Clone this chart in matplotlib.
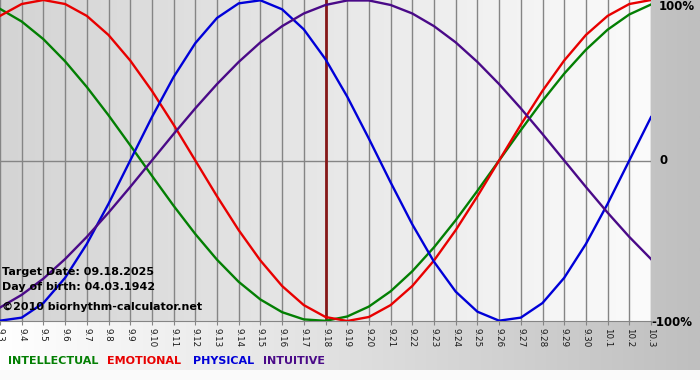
import matplotlib
matplotlib.use('Agg')
import matplotlib.pyplot as plt
import numpy as np
from matplotlib.colors import LinearSegmentedColormap

# Days shown: 9.3 .. 10.3 (index 0..30), target day 9.18
day_labels = ['9.3', '9.4', '9.5', '9.6', '9.7', '9.8', '9.9', '9.10', '9.11', '9.12',
              '9.13', '9.14', '9.15', '9.16', '9.17', '9.18', '9.19', '9.20', '9.21',
              '9.22', '9.23', '9.24', '9.25', '9.26', '9.27', '9.28', '9.29', '9.30',
              '10.1', '10.2', '10.3']
target_idx = 15

intellectual = [0.945, 0.866, 0.756, 0.618, 0.458, 0.282, 0.095, -0.095, -0.282, -0.458,
                -0.618, -0.756, -0.866, -0.945, -0.990, -0.999, -0.972, -0.910, -0.815,
                -0.690, -0.541, -0.372, -0.189, 0.000, 0.189, 0.372, 0.541, 0.690, 0.815,
                0.910, 0.972]
emotional = [0.901, 0.975, 1.000, 0.975, 0.901, 0.782, 0.623, 0.434, 0.223, 0.000,
             -0.223, -0.434, -0.623, -0.782, -0.901, -0.975, -1.000, -0.975, -0.901,
             -0.782, -0.623, -0.434, -0.223, 0.000, 0.223, 0.434, 0.623, 0.782, 0.901,
             0.975, 1.000]
physical = [-0.998, -0.979, -0.888, -0.731, -0.520, -0.270, 0.000, 0.270, 0.520, 0.731,
            0.888, 0.979, 0.998, 0.942, 0.817, 0.631, 0.398, 0.136, -0.136, -0.398,
            -0.631, -0.817, -0.942, -0.998, -0.979, -0.888, -0.731, -0.520, -0.270,
            0.000, 0.270]
intuitive = [-0.916, -0.837, -0.736, -0.614, -0.476, -0.325, -0.165, 0.000, 0.165, 0.325,
             0.476, 0.614, 0.736, 0.837, 0.916, 0.969, 0.997, 0.997, 0.969, 0.916,
             0.837, 0.736, 0.614, 0.476, 0.325, 0.165, 0.000, -0.165, -0.325, -0.476,
             -0.614]

series = [('INTELLECTUAL', intellectual, '#037f03'),
          ('EMOTIONAL', emotional, '#e80000'),
          ('PHYSICAL', physical, '#0000d8'),
          ('INTUITIVE', intuitive, '#4a0a88')]

W, H = 700, 380
fig = plt.figure(figsize=(W / 100, H / 100), dpi=100)
fig.patch.set_facecolor('#fafafa')

# background gradient (white -> gray, left to right)
bg = fig.add_axes([0, 10 / H, 1, 1 - 10 / H], zorder=-10)
bg_cmap = LinearSegmentedColormap.from_list('bg', ['#ffffff', '#bfbfbf'])
bg.imshow(np.linspace(0, 1, 256).reshape(1, -1), cmap=bg_cmap, aspect='auto',
          extent=(0, 1, 0, 1))
bg.axis('off')

x = np.arange(len(day_labels))
ax = fig.add_axes([0, (H - 321) / H, 651 / W, 321 / H])
plot_cmap = LinearSegmentedColormap.from_list('pl', ['#d4d4d4', '#fbfbfb'])
ax.imshow(np.linspace(0, 1, 256).reshape(1, -1), cmap=plot_cmap, aspect='auto',
          extent=(0, len(day_labels) - 1, -1, 1), zorder=0)
ax.set_xlim(0, len(day_labels) - 1)
ax.set_ylim(-1, 1)

for xi in x:
    ax.axvline(xi, color='#858585', lw=1, zorder=1)
ax.axhline(0, color='#858585', lw=1, zorder=1)
ax.axvline(target_idx, color='#861818', lw=2, zorder=2)

for name, vals, col in series:
    ax.plot(x, vals, color=col, lw=1.7, zorder=3)

ax.set_xticks(x)
ax.set_xticklabels(day_labels, rotation=270, fontsize=6.3, color='#1a1a1a')
ax.tick_params(axis='x', length=3, color='#858585', pad=2)
ax.set_yticks([])
for s in ['top', 'left', 'right']:
    ax.spines[s].set_visible(False)
ax.spines['bottom'].set_color('#858585')

# right-hand scale labels
fig.text(659 / W, 1 - 7 / H, '100%', fontsize=8.5, fontweight='bold', va='center')
fig.text(659 / W, 1 - 161 / H, '0', fontsize=8.5, fontweight='bold', va='center')
fig.text(651 / W, 1 - 322 / H, '-100%', fontsize=8.5, fontweight='bold', va='center')

# info text
fig.text(2 / W, 1 - 272 / H, 'Target Date: 09.18.2025', fontsize=8,
         fontweight='bold', va='center', zorder=5)
fig.text(2 / W, 1 - 287 / H, 'Day of birth: 04.03.1942', fontsize=8,
         fontweight='bold', va='center', zorder=5)
fig.text(2 / W, 1 - 307 / H, '\u00a92010 biorhythm-calculator.net', fontsize=8,
         fontweight='bold', va='center', zorder=5)

# legend words
leg_x = [8, 107, 193, 263]
for (name, vals, col), lx in zip(series, leg_x):
    fig.text(lx / W, 1 - 361 / H, name, fontsize=8, fontweight='bold',
             color=col, va='center')

fig.savefig('out.png', dpi=100)
